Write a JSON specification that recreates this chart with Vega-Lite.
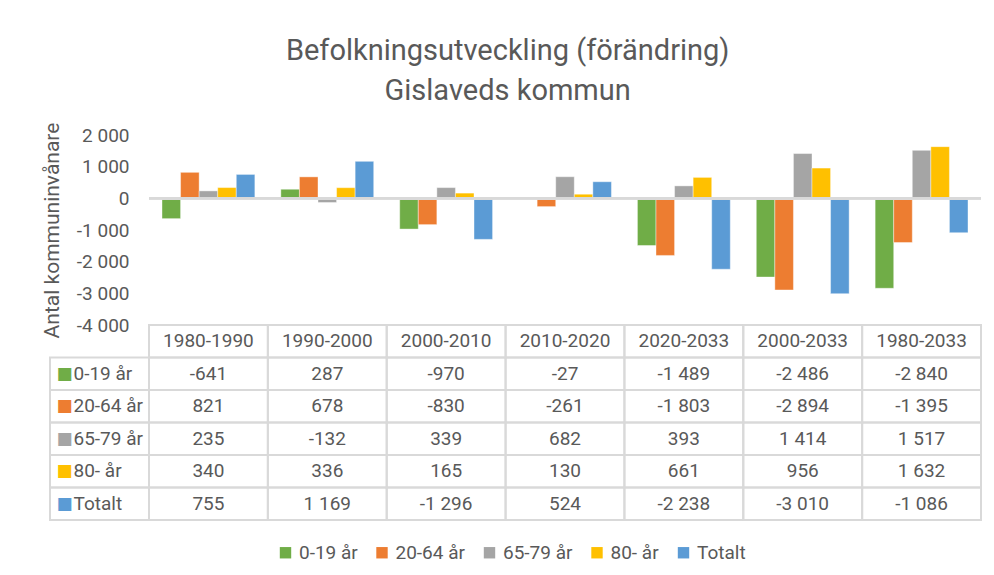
{
  "$schema": "https://vega.github.io/schema/vega-lite/v6.json",
  "background": "white",
  "padding": {"left": 41, "top": 37, "right": 10, "bottom": 10},
  "config": {
    "locale": {"number": {"decimal": ",", "thousands": " ", "grouping": [3], "currency": ["", " kr"], "minus": "-"}},
    "font": "Roboto",
    "view": {"stroke": null},
    "text": {"font": "Roboto"}
  },
  "title": {
    "text": ["Befolkningsutveckling (förändring)", "Gislaveds kommun"],
    "fontSize": 29,
    "fontWeight": "normal",
    "color": "#595959",
    "lineHeight": 40,
    "anchor": "middle",
    "offset": 16,
    "dx": -4,
    "dy": 0
  },
  "datasets": {
    "d": [
      {"period": "1980-1990", "group": "0-19 år", "value": -641},
      {"period": "1990-2000", "group": "0-19 år", "value": 287},
      {"period": "2000-2010", "group": "0-19 år", "value": -970},
      {"period": "2010-2020", "group": "0-19 år", "value": -27},
      {"period": "2020-2033", "group": "0-19 år", "value": -1489},
      {"period": "2000-2033", "group": "0-19 år", "value": -2486},
      {"period": "1980-2033", "group": "0-19 år", "value": -2840},
      {"period": "1980-1990", "group": "20-64 år", "value": 821},
      {"period": "1990-2000", "group": "20-64 år", "value": 678},
      {"period": "2000-2010", "group": "20-64 år", "value": -830},
      {"period": "2010-2020", "group": "20-64 år", "value": -261},
      {"period": "2020-2033", "group": "20-64 år", "value": -1803},
      {"period": "2000-2033", "group": "20-64 år", "value": -2894},
      {"period": "1980-2033", "group": "20-64 år", "value": -1395},
      {"period": "1980-1990", "group": "65-79 år", "value": 235},
      {"period": "1990-2000", "group": "65-79 år", "value": -132},
      {"period": "2000-2010", "group": "65-79 år", "value": 339},
      {"period": "2010-2020", "group": "65-79 år", "value": 682},
      {"period": "2020-2033", "group": "65-79 år", "value": 393},
      {"period": "2000-2033", "group": "65-79 år", "value": 1414},
      {"period": "1980-2033", "group": "65-79 år", "value": 1517},
      {"period": "1980-1990", "group": "80- år", "value": 340},
      {"period": "1990-2000", "group": "80- år", "value": 336},
      {"period": "2000-2010", "group": "80- år", "value": 165},
      {"period": "2010-2020", "group": "80- år", "value": 130},
      {"period": "2020-2033", "group": "80- år", "value": 661},
      {"period": "2000-2033", "group": "80- år", "value": 956},
      {"period": "1980-2033", "group": "80- år", "value": 1632},
      {"period": "1980-1990", "group": "Totalt", "value": 755},
      {"period": "1990-2000", "group": "Totalt", "value": 1169},
      {"period": "2000-2010", "group": "Totalt", "value": -1296},
      {"period": "2010-2020", "group": "Totalt", "value": 524},
      {"period": "2020-2033", "group": "Totalt", "value": -2238},
      {"period": "2000-2033", "group": "Totalt", "value": -3010},
      {"period": "1980-2033", "group": "Totalt", "value": -1086}
    ]
  },
  "columns": 2,
  "bounds": "flush",
  "align": "each",
  "spacing": 0,
  "concat": [
    {
      "width": 99,
      "height": 190,
      "data": {"values": [{}]},
      "mark": {"type": "text", "text": ""},
      "encoding": {}
    },
    {
      "width": 832,
      "height": 190,
      "data": {"name": "d"},
      "layer": [
        {
          "mark": {"type": "bar", "stroke": "white", "strokeWidth": 0.8, "strokeOpacity": 0.5},
          "encoding": {
            "x": {"field": "period", "type": "nominal", "sort": ["1980-1990", "1990-2000", "2000-2010", "2010-2020", "2020-2033", "2000-2033", "1980-2033"], "scale": {"paddingInner": 0, "paddingOuter": 0}, "axis": null},
            "xOffset": {"field": "group", "type": "nominal", "sort": ["0-19 år", "20-64 år", "65-79 år", "80- år", "Totalt"], "scale": {"paddingInner": 0, "paddingOuter": 0.7}},
            "y": {
              "field": "value", "type": "quantitative",
              "scale": {"domain": [-4000, 2000], "nice": false, "zero": false},
              "axis": {
                "title": "Antal kommuninvånare",
                "values": [-4000, -3000, -2000, -1000, 0, 1000, 2000],
                "tickCount": 12,
                "format": ",d",
                "labelOverlap": false,
                "grid": false, "domain": false, "ticks": false, "tickSize": 0,
                "labelPadding": 20, "labelFontSize": 19, "labelColor": "#595959", "labelFont": "Roboto",
                "titlePadding": 14, "titleFontSize": 21, "titleColor": "#595959", "titleFontWeight": "normal", "titleFont": "Roboto"
              }
            },
            "color": {
              "field": "group", "type": "nominal",
              "scale": {"domain": ["0-19 år", "20-64 år", "65-79 år", "80- år", "Totalt"], "range": ["#70AD47", "#ED7D31", "#A5A5A5", "#FFC000", "#5B9BD5"]},
              "legend": {
                "title": null, "orient": "none", "legendX": 226, "legendY": 408, "direction": "horizontal",
                "symbolType": "square", "symbolSize": 130, "symbolStrokeWidth": 0,
                "labelFontSize": 19, "labelColor": "#595959", "labelFont": "Roboto",
                "columnPadding": 14.5, "labelOffset": 4
              }
            }
          }
        },
        {
          "mark": {"type": "rule", "color": "#D9D9D9", "strokeWidth": 2},
          "encoding": {"y": {"datum": 0}}
        }
      ]
    },
    {
      "width": 99,
      "height": 195,
      "data": {"name": "d"},
      "transform": [{"filter": "datum.period === '1980-1990'"}],
      "encoding": {
        "y": {"field": "group", "type": "nominal", "scale": {"domain": [" ", "0-19 år", "20-64 år", "65-79 år", "80- år", "Totalt"], "paddingInner": 0, "paddingOuter": 0}, "axis": null}
      },
      "layer": [
        {"mark": {"type": "rect", "fill": "transparent", "stroke": "#D9D9D9", "strokeWidth": 2}},
        {
          "mark": {"type": "text", "text": "■", "align": "left", "dx": -43, "fontSize": 17, "font": "DejaVu Sans"},
          "encoding": {
            "color": {"field": "group", "type": "nominal", "scale": {"domain": ["0-19 år", "20-64 år", "65-79 år", "80- år", "Totalt"], "range": ["#70AD47", "#ED7D31", "#A5A5A5", "#FFC000", "#5B9BD5"]}, "legend": null}
          }
        },
        {
          "mark": {"type": "text", "align": "left", "dx": -26, "fontSize": 19, "color": "#595959", "font": "Roboto"},
          "encoding": {"text": {"field": "group", "type": "nominal"}}
        }
      ]
    },
    {
      "width": 832,
      "height": 195,
      "data": {"name": "d"},
      "encoding": {
        "x": {"field": "period", "type": "nominal", "sort": ["1980-1990", "1990-2000", "2000-2010", "2010-2020", "2020-2033", "2000-2033", "1980-2033"], "scale": {"paddingInner": 0, "paddingOuter": 0}, "axis": null}
      },
      "layer": [
        {
          "mark": {"type": "rect", "fill": "transparent", "stroke": "#D9D9D9", "strokeWidth": 2},
          "encoding": {"y": {"field": "group", "type": "nominal", "scale": {"domain": [" ", "0-19 år", "20-64 år", "65-79 år", "80- år", "Totalt"], "paddingInner": 0, "paddingOuter": 0}, "axis": null}}
        },
        {
          "transform": [{"filter": "datum.group === 'Totalt'"}],
          "mark": {"type": "rect", "fill": "transparent", "stroke": "#D9D9D9", "strokeWidth": 2},
          "encoding": {"y": {"datum": " ", "type": "nominal"}}
        },
        {
          "mark": {"type": "text", "fontSize": 19, "color": "#595959", "font": "Roboto"},
          "encoding": {
            "y": {"field": "group", "type": "nominal"},
            "text": {"field": "value", "type": "quantitative", "format": ",d"}
          }
        },
        {
          "transform": [{"filter": "datum.group === 'Totalt'"}],
          "mark": {"type": "text", "fontSize": 19, "color": "#595959", "font": "Roboto"},
          "encoding": {
            "y": {"datum": " ", "type": "nominal"},
            "text": {"field": "period", "type": "nominal"}
          }
        }
      ]
    }
  ]
}
